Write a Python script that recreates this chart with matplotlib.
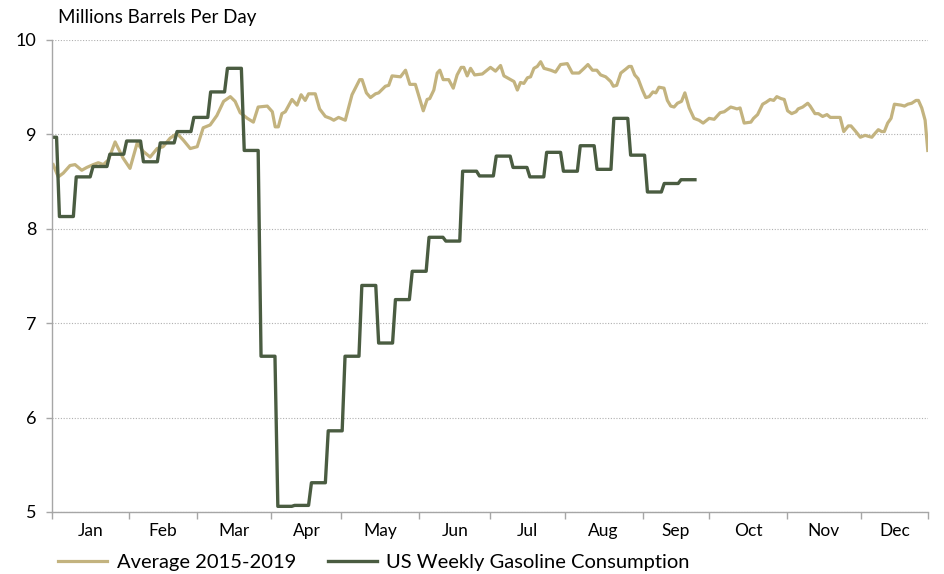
import numpy as np
import matplotlib
matplotlib.use("Agg")
import matplotlib.pyplot as plt

# === Data (x in day-of-year units) ===
avg_day = [0.5, 2.6, 4.7, 7.5, 9.6, 12.4, 14.5, 17.2, 19.3, 21.4, 23.5, 26.3, 29.6, 32.5,
           35.5, 38.0, 40.9, 43.8, 46.3, 49.2, 52.1, 54.7, 57.6, 60.5, 63.0, 65.9, 68.7,
           71.5, 74.3, 76.3, 78.4, 81.4, 83.9, 85.9, 89.7, 91.8, 93.0, 94.3, 95.8, 97.2,
           100.0, 102.1, 103.8, 105.5, 106.9, 109.7, 111.5, 113.9, 116.0, 117.4, 119.4,
           122.2, 125.0, 128.2, 129.2, 131.0, 132.7, 134.8, 136.1, 138.9, 140.3, 141.7,
           145.2, 147.3, 149.1, 151.4, 154.7, 156.3, 157.4, 159.1, 160.5, 161.6, 163.0,
           165.3, 167.2, 168.8, 170.5, 171.6, 173.0, 174.4, 176.1, 179.3, 182.7, 184.8,
           186.9, 188.3, 190.4, 192.5, 193.9, 195.2, 196.6, 198.1, 199.4, 200.8, 202.2,
           203.6, 205.0, 207.8, 209.8, 211.9, 214.7, 216.8, 219.6, 221.7, 223.3, 225.2,
           227.0, 228.6, 230.7, 232.8, 233.9, 235.3, 237.0, 239.0, 240.4, 241.4, 242.8,
           244.2, 246.0, 247.4, 248.8, 250.4, 251.6, 252.9, 255.0, 256.4, 257.8, 259.2,
           260.6, 262.3, 263.7, 265.5, 267.5, 269.6, 271.3, 273.8, 275.9, 278.4, 280.1,
           282.8, 284.2, 285.4, 286.7, 288.4, 291.2, 292.3, 294.0, 296.1, 297.5, 299.2,
           300.7, 302.0, 303.7, 305.1, 306.5, 308.2, 310.0, 310.9, 312.8, 314.9, 315.9,
           317.9, 319.3, 321.1, 322.9, 324.3, 328.4, 329.9, 331.8, 332.9, 334.6, 336.8,
           338.8, 340.1, 341.6, 342.9, 344.3, 345.7, 346.8, 348.2, 349.6, 351.0, 353.8,
           355.2, 356.6, 358.2, 360.0, 361.0, 362.4, 363.8, 364.9]
avg_val = [8.68, 8.55, 8.59, 8.67, 8.68, 8.62, 8.65, 8.68, 8.70, 8.68, 8.73, 8.92, 8.75, 8.64,
           8.91, 8.82, 8.76, 8.85, 8.87, 8.96, 9.01, 8.94, 8.85, 8.87, 9.07, 9.10, 9.20,
           9.35, 9.40, 9.35, 9.23, 9.17, 9.13, 9.29, 9.30, 9.24, 9.08, 9.08, 9.22, 9.24,
           9.37, 9.31, 9.42, 9.36, 9.43, 9.43, 9.27, 9.19, 9.17, 9.15, 9.18,
           9.15, 9.42, 9.58, 9.58, 9.44, 9.39, 9.43, 9.44, 9.51, 9.52, 9.62,
           9.61, 9.68, 9.53, 9.53, 9.25, 9.37, 9.38, 9.47, 9.65, 9.68, 9.58,
           9.58, 9.49, 9.63, 9.71, 9.71, 9.62, 9.70, 9.63, 9.64, 9.71, 9.67,
           9.73, 9.62, 9.59, 9.56, 9.47, 9.55, 9.54, 9.60, 9.61, 9.70, 9.72,
           9.77, 9.70, 9.68, 9.66, 9.74, 9.75, 9.65, 9.65, 9.70, 9.74, 9.68,
           9.68, 9.63, 9.61, 9.56, 9.51, 9.52, 9.65, 9.69, 9.72, 9.72, 9.63,
           9.59, 9.47, 9.39, 9.40, 9.45, 9.44, 9.50, 9.49, 9.36, 9.30, 9.29,
           9.33, 9.35, 9.44, 9.28, 9.17, 9.15, 9.12, 9.17, 9.16, 9.23, 9.24,
           9.29, 9.28, 9.27, 9.28, 9.12, 9.13, 9.17, 9.21, 9.32, 9.34, 9.37,
           9.36, 9.40, 9.38, 9.37, 9.25, 9.22, 9.24, 9.27, 9.29, 9.33, 9.30,
           9.22, 9.22, 9.19, 9.21, 9.18, 9.18, 9.03, 9.09, 9.09, 9.04, 8.97,
           8.99, 8.98, 8.97, 9.01, 9.05, 9.03, 9.03, 9.12, 9.17, 9.32, 9.31,
           9.30, 9.32, 9.33, 9.36, 9.36, 9.28, 9.15, 8.83]

# weekly values, each week starting on these days
week_start = [-4.5, 2.5, 9.5, 16.5, 23.5, 30.5, 37.5, 44.5, 51.5, 58.5, 65.5, 72.5, 79.5,
              86.5, 93.5, 100.5, 107.5, 114.5, 121.5, 128.5, 135.5, 142.5, 149.5, 156.5,
              163.5, 170.5, 177.5, 184.5, 191.5, 198.5, 205.5, 212.5, 219.5, 226.5, 233.5,
              240.5, 247.5, 254.5, 261.5]
weekly_val = [8.97, 8.13, 8.55, 8.66, 8.79, 8.93, 8.71, 8.91, 9.03, 9.18, 9.45, 9.70, 8.83,
              6.65, 5.06, 5.07, 5.31, 5.86, 6.65, 7.40, 6.79, 7.25, 7.55, 7.91, 7.87,
              8.61, 8.56, 8.77, 8.65, 8.55, 8.81, 8.61, 8.88, 8.63, 9.17, 8.78, 8.39,
              8.48, 8.52]

month_edges = [0, 32.1, 60.5, 91.4, 120.6, 153.1, 182.7, 213.6, 246.1, 273.7, 306.2, 337.1, 365]
month_names = ["Jan", "Feb", "Mar", "Apr", "May", "Jun", "Jul", "Aug", "Sep", "Oct", "Nov", "Dec"]

gold = "#C3B37F"
green = "#4A5C41"
grey = "#A6A6A6"

plt.rcParams['font.family'] = ['Lato', 'DejaVu Sans']

fig = plt.figure(figsize=(9.44, 5.74), dpi=100)
ax = fig.add_axes([52 / 944, 1 - 512 / 574, (928 - 52) / 944, (512 - 40) / 574])

# weekly series drawn as flat segments with short ramps between weeks
ws = np.array(week_start)
wx = np.column_stack([ws + 0.6, ws + 6.4]).ravel()
wy = np.repeat(weekly_val, 2)

ax.plot(avg_day, avg_val, color=gold, lw=2.3, label="Average 2015-2019", solid_joinstyle="round")
ax.plot(wx, wy, color=green, lw=2.4, label="US Weekly Gasoline Consumption", solid_joinstyle="round")

ax.set_xlim(0, 365)
ax.set_ylim(5, 10)
ax.set_yticks([5, 6, 7, 8, 9, 10])
ax.grid(axis="y", color="#B0B0B0", linestyle=(0, (1, 1.5)), lw=0.8)

ax.set_xticks(month_edges)
ax.set_xticklabels([])
mids = [(month_edges[i] + month_edges[i + 1]) / 2 for i in range(12)]
ax.set_xticks(mids, minor=True)
ax.set_xticklabels(month_names, minor=True)
ax.tick_params(axis="x", which="major", length=5, color=grey, width=1)
ax.tick_params(axis="x", which="minor", length=0, pad=8, labelsize=12.5, colors="black")
ax.tick_params(axis="y", length=4, color=grey, width=1, pad=7, labelsize=13)

for s in ["top", "right"]:
    ax.spines[s].set_visible(False)
for s in ["left", "bottom"]:
    ax.spines[s].set_color(grey)
    ax.spines[s].set_linewidth(1)

fig.text(58 / 944, 1 - 18 / 574, "Millions Barrels Per Day", fontsize=13.5, va="center", ha="left")

fig.legend(loc="center left", bbox_to_anchor=(40 / 944, 1 - 562 / 574), ncol=2, frameon=False,
           fontsize=14.5, handlelength=2.45, handletextpad=0.45, columnspacing=1.6)

fig.savefig("out.png", dpi=100)
